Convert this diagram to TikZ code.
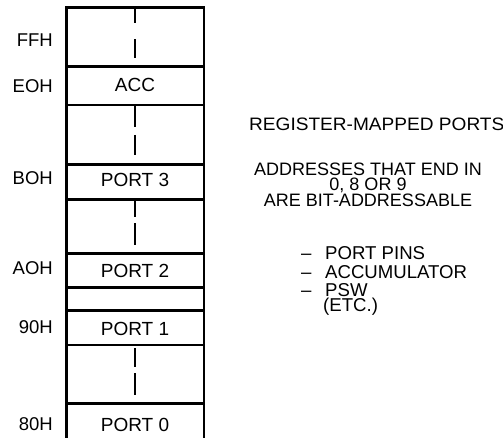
\documentclass[tikz,border=0pt]{standalone}
\usepackage{fontspec}
\setmainfont{Liberation Sans}
\begin{document}
\begin{tikzpicture}[x=1pt,y=-1pt,
  wall/.style={line width=2.8pt},
  dashseg/.style={line width=2.8pt},
  lbl/.style={font=\fontsize{18.5}{18.5}\selectfont, inner sep=0pt, anchor=base east},
  cell/.style={font=\fontsize{19}{19}\selectfont, inner sep=0pt, anchor=base},
  note/.style={font=\fontsize{18}{18}\selectfont, inner sep=0pt, anchor=base, text height=13pt, text depth=0pt},
  item/.style={font=\fontsize{18.6}{18.6}\selectfont, inner sep=0pt, anchor=base west, text height=13pt, text depth=0pt}]
\useasboundingbox (0,0) rectangle (503,438);
% memory column
\draw[wall] (66.5,440) -- (66.5,7.5) -- (204,7.5) -- (204,440);
\foreach \y in {66.5,105,164.3,199.8,253.5,287.3,310.8,345,403.3}
  \draw[wall] (66.5,\y) -- (204,\y);
\foreach \a/\b in {7.5/23.3, 39.3/58.3, 105/126.7, 135/155, 199.8/216.7, 223.3/245, 348.3/366.7, 373.3/395}
  \draw[dashseg] (135,\a) -- (135,\b);
% address labels
\node[lbl] (ffh) at (53,46.7) {FFH};
\node[lbl] (eoh) at (53,93) {EOH};
\node[lbl] (boh) at (53,185) {BOH};
\node[lbl] (aoh) at (53,275) {AOH};
\node[lbl] (n90) at (53,333) {90H};
\node[lbl] (n80) at (53,430) {80H};
% cell labels
\node[cell] (acc) at (135,92) {ACC};
\node[cell] (p3) at (135,187) {PORT 3};
\node[cell] (p2) at (135,277) {PORT 2};
\node[cell] (p1) at (135,335) {PORT 1};
\node[cell] (p0) at (135,431) {PORT 0};
% notes
\node[note, anchor=base west] (t1) at (249,130.7) {\scalebox{1.06}[1]{REGISTER-MAPPED PORTS}};
\node[note] (t2) at (368,176) {ADDRESSES THAT END IN};
\node[note] (t3) at (368,190.8) {0, 8 OR 9};
\node[note] (t4) at (368,206.7) {ARE BIT-ADDRESSABLE};
\node[item] (i1) at (301,260) {\makebox[24pt][l]{–}PORT PINS};
\node[item] (i2) at (301,278.3) {\makebox[24pt][l]{–}ACCUMULATOR};
\node[item] (i3) at (301,296.7) {\makebox[24pt][l]{–}PSW};
\node[item] (i4) at (323,311.7) {(ETC.)};
\end{tikzpicture}
\end{document}
